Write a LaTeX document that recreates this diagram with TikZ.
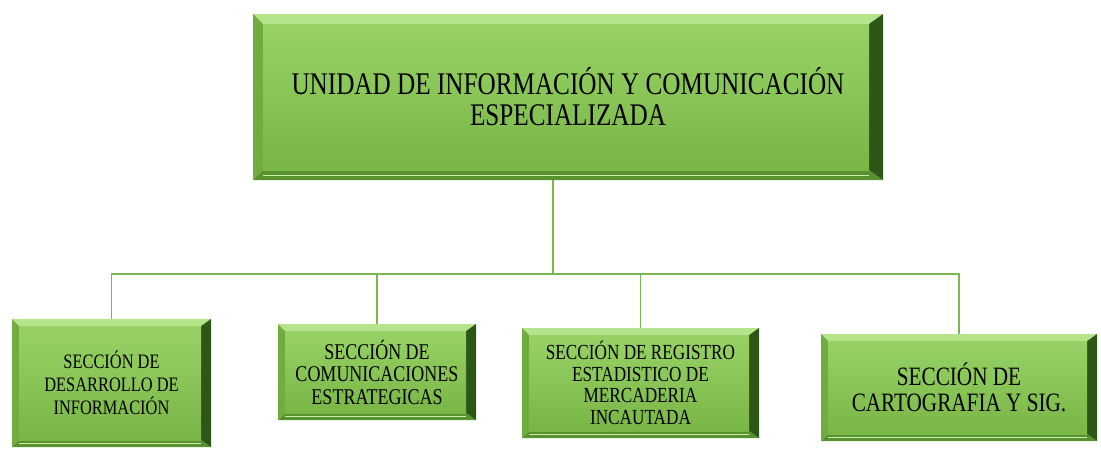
\documentclass[tikz,border=0pt]{standalone}
\usepackage{fontspec}
\newfontfamily\boxfont[FakeStretch=0.8]{Liberation Serif}
\usetikzlibrary{positioning}
\definecolor{faceTop}{RGB}{152,210,102}
\definecolor{faceBot}{RGB}{120,182,70}
\definecolor{edgeTop}{RGB}{182,228,140}
\definecolor{edgeLeft}{RGB}{112,172,62}
\definecolor{edgeBot}{RGB}{88,146,46}
\definecolor{edgeRight}{RGB}{46,86,22}
\definecolor{linkGreen}{RGB}{122,182,82}
\tikzset{
  bevelbox/.style={
    inner sep=0pt, align=center, text=black,
    path picture={
      \fill[edgeTop] (path picture bounding box.north west) -- (path picture bounding box.north east)
        -- ([shift={({-1.4*#1},-#1)}]path picture bounding box.north east)
        -- ([shift={(#1,-#1)}]path picture bounding box.north west) -- cycle;
      \fill[edgeLeft] (path picture bounding box.north west) -- (path picture bounding box.south west)
        -- ([shift={(#1,#1)}]path picture bounding box.south west)
        -- ([shift={(#1,-#1)}]path picture bounding box.north west) -- cycle;
      \fill[edgeBot] (path picture bounding box.south west) -- (path picture bounding box.south east)
        -- ([shift={({-1.4*#1},#1)}]path picture bounding box.south east)
        -- ([shift={(#1,#1)}]path picture bounding box.south west) -- cycle;
      \fill[edgeRight] (path picture bounding box.north east) -- (path picture bounding box.south east)
        -- ([shift={({-1.4*#1},#1)}]path picture bounding box.south east)
        -- ([shift={({-1.4*#1},-#1)}]path picture bounding box.north east) -- cycle;
      \shade[top color=faceTop, bottom color=faceBot]
        ([shift={(#1,-#1)}]path picture bounding box.north west)
        rectangle ([shift={({-1.4*#1},#1)}]path picture bounding box.south east);
      \draw[edgeTop!70!white, line width=1pt]
        ([shift={(#1,{#1*0.5})}]path picture bounding box.south west)
        -- ([shift={({-1.4*#1},{#1*0.5})}]path picture bounding box.south east);
    }
  },
  link/.style={draw=linkGreen, line width=1.4pt}
}

\begin{document}
\begin{tikzpicture}[x=1pt, y=-1pt]
  \useasboundingbox (0,0) rectangle (1101,458);
  % head unit
  \node[bevelbox=10pt, minimum width=630pt, minimum height=166pt,
        font=\boxfont\fontsize{31.5}{31}\selectfont] (unidad) at (568,97)
        {UNIDAD DE INFORMACIÓN Y COMUNICACIÓN\\ESPECIALIZADA};
  % sections
  \node[bevelbox=7pt, minimum width=199pt, minimum height=128pt,
        font=\boxfont\fontsize{20.5}{23}\selectfont] (desarrollo) at (111.5,383)
        {SECCIÓN DE\\DESARROLLO DE\\INFORMACIÓN};
  \node[bevelbox=7pt, minimum width=198pt, minimum height=96pt,
        font=\boxfont\fontsize{22.5}{22.5}\selectfont] (comunicaciones) at (377,372)
        {SECCIÓN DE\\COMUNICACIONES\\ESTRATEGICAS};
  \node[bevelbox=7pt, minimum width=237pt, minimum height=110pt,
        font=\boxfont\fontsize{21.5}{21.5}\selectfont] (registro) at (640.5,383)
        {SECCIÓN DE REGISTRO\\ESTADISTICO DE\\MERCADERIA\\INCAUTADA};
  \node[bevelbox=7pt, minimum width=276pt, minimum height=107pt,
        font=\boxfont\fontsize{26.5}{26}\selectfont] (cartografia) at (959,387.5)
        {SECCIÓN DE\\CARTOGRAFIA Y SIG.};
  % connectors
  \coordinate (bus) at (553,274);
  \draw[link] (unidad.south -| bus) -- (bus);
  \draw[link] (desarrollo.north) |- (bus) -| (cartografia.north);
  \draw[link] (comunicaciones.north) -- (comunicaciones.north |- bus);
  \draw[link] (registro.north) -- (registro.north |- bus);
\end{tikzpicture}
\end{document}
